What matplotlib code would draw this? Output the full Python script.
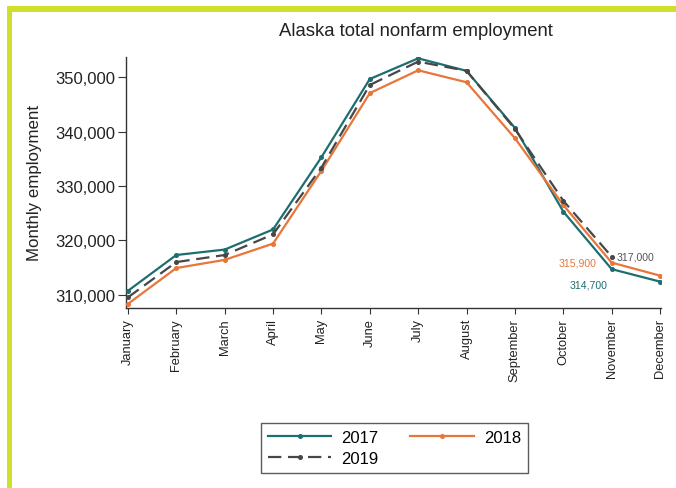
import matplotlib
matplotlib.use("Agg")
import matplotlib.pyplot as plt
import numpy as np
from matplotlib.patches import Rectangle
from matplotlib.ticker import FuncFormatter

plt.rcParams['font.family'] = ['Liberation Sans', 'DejaVu Sans']

months = ["January", "February", "March", "April", "May", "June", "July",
          "August", "September", "October", "November", "December"]
emp_2017 = [310700, 317300, 318300, 322000, 335300, 349700, 353500, 351200,
            340700, 325300, 314700, 312400]
emp_2018 = [308300, 314900, 316400, 319400, 332800, 347100, 351300, 349100,
            338800, 326500, 315900, 313500]
emp_2019 = [309500, 316000, 317300, 321100, 333400, 348600, 352900, 351200,
            340500, 327300, 317000, np.nan]
y_ticks = [310000, 320000, 330000, 340000, 350000]

c17 = "#1c6e70"
c18 = "#e8763a"
c19 = "#474747"

fig = plt.figure(figsize=(6.76, 4.89), dpi=100)
W, H = 676, 489

# border decoration
fig.patches.append(Rectangle((7 / W, 0), 5 / W, 1 - 7 / H, transform=fig.transFigure,
                             facecolor="#cfe02a", edgecolor="none", zorder=0))
fig.patches.append(Rectangle((7 / W, 1 - 12.5 / H), 1 - 7 / W, 5.5 / H, transform=fig.transFigure,
                             facecolor="#cfe02a", edgecolor="none", zorder=0))

ax = fig.add_axes([126 / W, 1 - 308.7 / H, (661 - 126) / W, (308.7 - 58) / H])
x = np.arange(len(months))

l17, = ax.plot(x, emp_2017, color=c17, lw=1.6, marker="o", ms=2.6, label="2017", zorder=3)
l18, = ax.plot(x, emp_2018, color=c18, lw=1.6, marker="o", ms=2.6, label="2018", zorder=3)
l19, = ax.plot(x, emp_2019, color=c19, lw=1.6, marker="o", ms=2.6, dashes=(6, 3), label="2019", zorder=4)

ax.set_xlim(-0.04, 11.02)
ax.set_ylim(307600, 353750)
ax.set_xticks(x)
ax.set_xticklabels(months, rotation=90, fontsize=9.3, color="#222222")
ax.set_yticks(y_ticks)
ax.yaxis.set_major_formatter(FuncFormatter(lambda v, p: f"{v:,.0f}"))
ax.tick_params(axis="y", labelsize=12, length=6, pad=1.5, colors="#333333", labelcolor="#222222")
ax.tick_params(axis="x", length=4, pad=3.5, colors="#333333", labelcolor="#222222")
for s in ["top", "right"]:
    ax.spines[s].set_visible(False)
for s in ["left", "bottom"]:
    ax.spines[s].set_color("#333333")
    ax.spines[s].set_linewidth(1.0)

ax.set_ylabel("Monthly employment", fontsize=12.2, color="#222222")
ax.yaxis.set_label_coords(-(126 - 35) / (661 - 126), 0.5)
ax.yaxis.label.set_va("center")

fig.text(416 / W, 1 - 32 / H, "Alaska total nonfarm employment", fontsize=13.3,
         ha="center", va="center", color="#222222")

ann_fs = 7.6
ax.annotate(f"{emp_2019[10]:,.0f}", (10, emp_2019[10]), xytext=(3.5, 0), textcoords="offset points",
            ha="left", va="center", fontsize=ann_fs, color="#555555")
ax.annotate(f"{emp_2018[10]:,.0f}", (10, emp_2018[10]), xytext=(-11, 0), textcoords="offset points",
            ha="right", va="center", fontsize=ann_fs, color=c18)
ax.annotate(f"{emp_2017[10]:,.0f}", (10, emp_2017[10]), xytext=(-3, -11), textcoords="offset points",
            ha="right", va="center", fontsize=ann_fs, color=c17)

leg = fig.legend([l17, l19, l18], ["2017", "2019", "2018"],
                 loc="center", bbox_to_anchor=(394.5 / W, 1 - 449 / H), ncol=2, fontsize=12,
                 frameon=True, fancybox=False, handlelength=3.8, handletextpad=0.6,
                 columnspacing=1.9, labelspacing=0.35, borderpad=0.45, borderaxespad=0)
leg.get_frame().set_edgecolor("#333333")
leg.get_frame().set_linewidth(1.0)

fig.savefig("out.png", dpi=100)
